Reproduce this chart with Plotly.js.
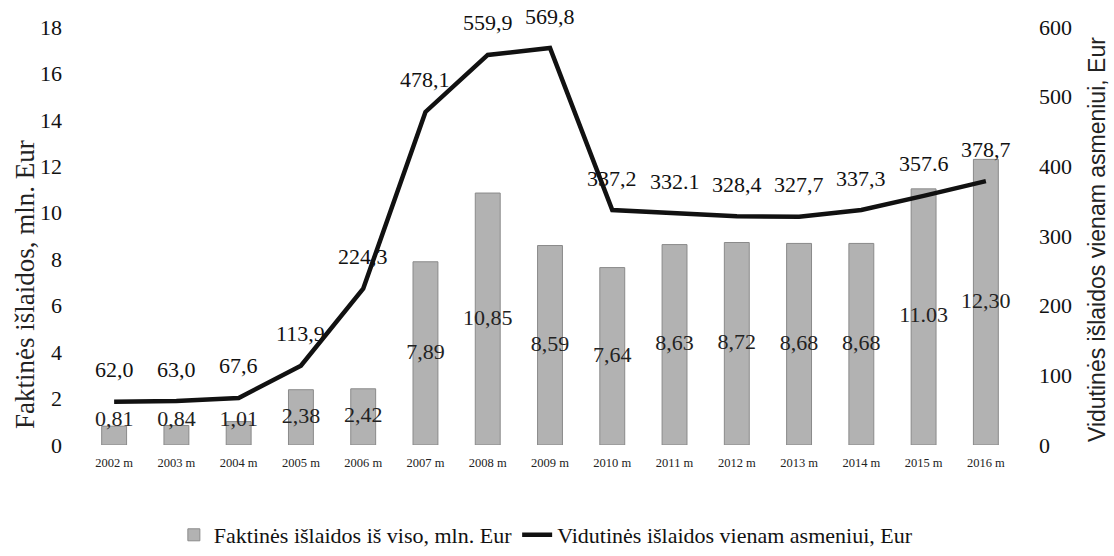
<!DOCTYPE html>
<html>
<head>
<meta charset="utf-8">
<script src="https://cdn.plot.ly/plotly-3.0.1.min.js"></script>
<style>html,body{margin:0;padding:0;background:#fff;}#chart{width:1114px;height:556px;}</style>
</head>
<body>
<div id="chart"></div>
<script>
const years = ["2002 m","2003 m","2004 m","2005 m","2006 m","2007 m","2008 m","2009 m","2010 m","2011 m","2012 m","2013 m","2014 m","2015 m","2016 m"];
const totalSpend = [0.81,0.84,1.01,2.38,2.42,7.89,10.85,8.59,7.64,8.63,8.72,8.68,8.68,11.03,12.30];
const totalLabels = ["0,81","0,84","1,01","2,38","2,42","7,89","10,85","8,59","7,64","8,63","8,72","8,68","8,68","11.03","12,30"];
const perPerson = [62.0,63.0,67.6,113.9,224.3,478.1,559.9,569.8,337.2,332.1,328.4,327.7,337.3,357.6,378.7];
const perPersonLabels = ["62,0","63,0","67,6","113,9","224,3","478,1","559,9","569,8","337,2","332.1","328,4","327,7","337,3","357.6","378,7"];
const seriesNames = ["Faktinės išlaidos iš viso, mln. Eur","Vidutinės išlaidos vienam asmeniui, Eur"];
const axisTitles = ["Faktinės išlaidos, mln. Eur","Vidutinės išlaidos vienam asmeniui, Eur"];

const serif = "Liberation Serif";
const sans = "Liberation Sans";

const bars = {
  type: "bar", x: years, y: totalSpend, name: seriesNames[0],
  marker: {color: "#b2b2b2", line: {color: "#8a8a8a", width: 1}},
  width: 0.4, yaxis: "y", hoverinfo: "skip"
};
const barText = {
  type: "scatter", mode: "text", x: years,
  y: totalSpend.map(v => Math.max(v / 2, 1.07)),
  text: totalLabels, textposition: "middle center",
  textfont: {family: serif, size: 22, color: "#222"},
  showlegend: false, yaxis: "y", hoverinfo: "skip"
};
const line = {
  type: "scatter", mode: "lines", x: years, y: perPerson, name: seriesNames[1],
  line: {color: "#111", width: 4.5}, yaxis: "y2", hoverinfo: "skip"
};
const annotations = perPerson.map((v, i) => ({
  x: years[i], y: v, xref: "x", yref: "y2", text: perPersonLabels[i],
  showarrow: false, yshift: 32,
  font: {family: serif, size: 22, color: "#111"}
}));
annotations.push({
  x: 0, y: 0.5, xref: "paper", yref: "paper", xanchor: "center", yanchor: "middle",
  xshift: -58, yshift: -49,
  text: axisTitles[0], textangle: -90, showarrow: false,
  font: {family: serif, size: 27, color: "#222"}
});
annotations.push({
  x: 1, y: 0.5, xref: "paper", yref: "paper", xanchor: "center", yanchor: "middle",
  xshift: 80, yshift: -4,
  text: axisTitles[1], textangle: -90, showarrow: false,
  font: {family: sans, size: 23, color: "#222"}
});

const layout = {
  width: 1114, height: 556,
  margin: {l: 83, r: 97, t: 27, b: 111},
  paper_bgcolor: "#fff", plot_bgcolor: "#fff",
  font: {family: serif, color: "#111"},
  xaxis: {
    type: "category", range: [-0.5, 14.5], showgrid: false, zeroline: false, showline: false,
    automargin: false,
    ticks: "", ticklabelstandoff: 8, tickfont: {family: serif, size: 12.5, color: "#222"}
  },
  yaxis: {
    range: [0, 18], dtick: 2, showgrid: false, zeroline: false, showline: false,
    automargin: false,
    ticks: "", ticklabelstandoff: 20, tickfont: {family: serif, size: 22, color: "#111"}
  },
  yaxis2: {
    overlaying: "y", side: "right", range: [0, 600], dtick: 100, showgrid: false,
    zeroline: false, showline: false, ticks: "", ticklabelstandoff: 21, automargin: false,
    tickfont: {family: serif, size: 22, color: "#111"}
  },
  showlegend: true,
  legend: {
    orientation: "h", x: 0.49, xanchor: "center", xref: "container", y: 0, yref: "container", yanchor: "bottom",
    font: {family: serif, size: 22, color: "#111"}, traceorder: "normal"
  },
  annotations: annotations
};

Plotly.newPlot("chart", [bars, barText, line], layout, {displayModeBar: false, staticPlot: true});
</script>
</body>
</html>
